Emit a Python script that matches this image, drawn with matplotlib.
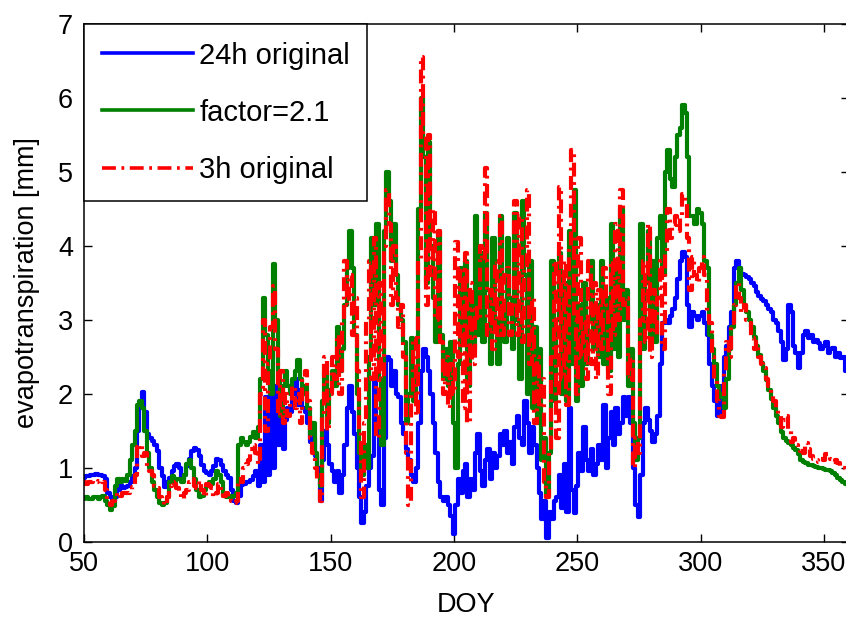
import numpy as np
import matplotlib
matplotlib.use("Agg")
import matplotlib.pyplot as plt

# ---------------- data (DOY 50 .. 360, daily) ----------------
doy_start = 50
doy_end = 360

et_24h_original = [
    0.86, 0.88, 0.88, 0.90, 0.90, 0.91, 0.90, 0.90, 0.88, 0.84,
    0.65, 0.60, 0.55, 0.60, 0.70, 0.76, 0.72, 0.74, 0.75, 0.80,
    0.88, 1.00, 1.50, 1.85, 2.02, 1.75, 1.45, 1.40, 1.36, 1.30,
    1.22, 1.00, 0.88, 0.74, 0.80, 0.86, 0.96, 1.02, 1.05, 1.00,
    0.84, 0.90, 1.02, 1.12, 1.22, 1.26, 1.24, 1.15, 1.04, 0.95,
    0.92, 0.90, 0.95, 1.02, 1.12, 1.10, 1.04, 0.95, 0.90, 0.86,
    0.70, 0.55, 0.52, 0.62, 0.76, 0.78, 0.80, 0.80, 0.83, 0.88,
    0.95, 0.75, 1.30, 0.80, 1.95, 0.90, 2.15, 1.00, 2.10, 1.30,
    1.90, 1.25, 1.65, 1.80, 1.75, 2.00, 2.20, 1.85, 2.05, 1.80,
    1.75, 1.60, 1.35, 1.40, 1.15, 1.00, 0.55, 1.10, 1.50, 1.30,
    1.05, 0.95, 0.80, 0.95, 0.65, 0.90, 1.30, 1.80, 2.10, 1.75,
    1.45, 1.00, 0.60, 0.25, 0.40, 0.75, 1.00, 1.15, 2.25, 1.60,
    0.70, 0.50, 1.40, 2.50, 2.45, 2.10, 2.30, 2.00, 1.95, 1.60,
    1.45, 1.25, 1.10, 0.90, 0.80, 1.00, 1.60, 2.30, 2.60, 2.50,
    2.30, 2.00, 1.60, 1.20, 0.80, 0.60, 0.55, 0.60, 0.50, 0.35,
    0.10, 0.50, 0.85, 0.65, 0.95, 1.05, 0.60, 0.85, 0.70, 1.20,
    1.45, 0.95, 0.75, 1.10, 1.25, 0.85, 1.20, 1.00, 1.15, 1.45,
    1.30, 1.50, 1.20, 1.35, 1.05, 1.55, 1.70, 1.40, 1.30, 1.90,
    1.60, 1.20, 1.55, 1.30, 1.00, 0.65, 0.30, 0.55, 0.05, 0.40,
    0.30, 0.55, 0.60, 0.90, 0.45, 1.05, 0.40, 1.80, 0.70, 0.38,
    0.75, 1.20, 0.95, 1.55, 1.10, 0.95, 1.25, 0.90, 1.05, 1.30,
    1.10, 1.85, 1.00, 1.40, 1.75, 1.30, 1.80, 1.45, 1.60, 1.95,
    1.70, 1.95, 1.60, 1.00, 0.50, 0.33, 0.90, 1.60, 1.80, 1.65,
    1.50, 1.35, 1.45, 1.70, 2.40, 2.95, 3.00, 2.95, 3.05, 3.15,
    3.30, 3.55, 3.80, 3.92, 3.85, 3.20, 2.90, 3.10, 3.05, 3.00,
    3.05, 3.10, 2.95, 2.80, 2.40, 2.10, 1.90, 1.70, 1.75, 2.10,
    2.50, 2.65, 2.90, 3.10, 3.70, 3.80, 3.70, 3.62, 3.60, 3.58,
    3.55, 3.50, 3.45, 3.38, 3.32, 3.28, 3.25, 3.20, 3.15, 3.10,
    3.00, 2.95, 2.85, 2.70, 2.45, 2.60, 3.20, 3.10, 2.65, 2.55,
    2.35, 2.55, 2.80, 2.85, 2.75, 2.80, 2.70, 2.72, 2.68, 2.60,
    2.65, 2.70, 2.55, 2.60, 2.62, 2.50, 2.55, 2.48, 2.50, 2.30,
    2.55,
]

et_factor_2_1 = [
    0.58, 0.60, 0.58, 0.58, 0.60, 0.60, 0.58, 0.60, 0.62, 0.55,
    0.50, 0.42, 0.48, 0.75, 0.85, 0.80, 0.85, 0.82, 0.90, 1.10,
    1.30, 1.50, 1.85, 1.90, 1.80, 1.50, 1.20, 1.00, 0.80, 0.70,
    0.60, 0.52, 0.50, 0.52, 0.60, 0.80, 0.88, 0.80, 0.85, 0.85,
    0.80, 0.90, 1.05, 1.10, 1.00, 0.85, 0.70, 0.60, 0.62, 0.70,
    0.75, 0.80, 0.78, 0.85, 0.95, 0.90, 0.80, 0.62, 0.60, 0.62,
    0.60, 0.62, 0.66, 1.30, 1.40, 1.35, 1.30, 1.35, 1.42, 1.48,
    1.40, 1.55, 2.20, 3.30, 2.80, 2.30, 2.00, 3.75, 3.00, 2.30,
    1.70, 2.10, 2.30, 2.10, 2.00, 2.20, 2.30, 2.45, 2.20, 2.00,
    2.10, 1.80, 1.45, 1.60, 1.20, 0.90, 0.75, 1.90, 2.30, 1.60,
    2.05, 2.30, 2.10, 2.90, 2.30, 2.60, 3.20, 3.70, 4.20, 3.70,
    2.80, 2.00, 1.20, 0.90, 1.30, 1.00, 2.50, 4.10, 3.20, 4.30,
    2.20, 1.30, 4.20, 5.00, 4.60, 3.80, 4.30, 3.60, 3.20, 3.00,
    2.70, 1.60, 2.00, 2.75, 1.90, 2.30, 4.50, 6.00, 5.20, 3.50,
    5.40, 4.00, 3.30, 2.70, 4.20, 2.80, 2.20, 2.60, 2.10, 2.70,
    1.60, 1.00, 2.40, 3.70, 2.70, 3.80, 2.10, 3.30, 2.60, 4.40,
    2.80, 3.90, 2.70, 4.45, 3.40, 2.40, 4.10, 3.00, 2.40, 4.40,
    3.20, 2.70, 4.10, 3.30, 2.60, 4.45, 3.00, 2.20, 4.60, 3.60,
    2.00, 3.80, 1.80, 2.90, 1.60, 2.60, 1.10, 1.40, 0.60, 1.20,
    3.80, 1.90, 3.00, 3.90, 2.00, 3.50, 1.90, 4.20, 2.40, 4.75,
    1.90, 3.20, 2.10, 3.50, 2.40, 3.00, 3.80, 2.60, 3.20, 2.50,
    3.80, 2.40, 3.30, 2.30, 4.30, 2.60, 3.70, 2.50, 4.50, 3.00,
    3.40, 2.10, 2.60, 1.60, 1.10, 1.40, 4.30, 2.60, 3.50, 4.20,
    2.80, 3.80, 2.70, 4.10, 4.40, 3.60, 5.00, 5.30, 4.90, 4.80,
    5.20, 5.50, 5.60, 5.90, 5.80, 5.20, 4.40, 4.40, 4.30, 4.50,
    4.45, 4.30, 3.80, 3.70, 2.80, 2.60, 2.40, 2.10, 1.95, 2.00,
    1.80, 2.20, 2.60, 2.90, 3.20, 3.50, 3.70, 3.40, 3.20, 3.10,
    3.00, 2.90, 2.77, 2.65, 2.52, 2.41, 2.30, 2.18, 2.05, 1.93,
    1.80, 1.70, 1.60, 1.48, 1.40, 1.36, 1.33, 1.30, 1.27, 1.24,
    1.18, 1.10, 1.08, 1.06, 1.04, 1.03, 1.02, 1.01, 1.00, 0.99,
    0.98, 0.97, 0.97, 0.95, 0.92, 0.90, 0.86, 0.83, 0.80, 0.78,
    0.76,
]

et_3h_original = [
    0.80, 0.78, 0.80, 0.80, 0.82, 0.80, 0.82, 0.83, 0.80, 0.70,
    0.55, 0.50, 0.55, 0.62, 0.65, 0.62, 0.65, 0.66, 0.65, 0.70,
    0.74, 0.90, 1.28, 1.30, 1.15, 1.20, 1.00, 0.95, 0.90, 0.75,
    0.72, 0.60, 0.55, 0.50, 0.60, 0.75, 0.80, 0.78, 0.72, 0.65,
    0.58, 0.65, 0.70, 0.80, 0.85, 0.75, 0.72, 0.82, 0.70, 0.60,
    0.78, 0.75, 0.72, 0.60, 0.65, 0.78, 0.70, 0.62, 0.66, 0.60,
    0.55, 0.52, 0.55, 0.85, 0.80, 1.00, 1.05, 1.10, 1.25, 1.30,
    1.20, 1.05, 2.00, 3.00, 1.50, 2.40, 2.90, 3.45, 2.60, 1.70,
    2.30, 1.60, 2.00, 1.70, 1.90, 2.10, 1.80, 2.00, 1.60, 2.20,
    2.30, 1.90, 1.40, 1.20, 1.00, 0.80, 0.55, 1.70, 2.50, 1.50,
    2.00, 2.50, 2.20, 2.80, 2.00, 3.00, 3.80, 3.20, 3.60, 2.80,
    3.30, 2.30, 1.50, 0.60, 1.60, 3.00, 3.80, 2.20, 4.10, 1.40,
    3.50, 2.20, 4.00, 4.75, 4.30, 3.20, 4.00, 3.30, 2.90, 3.20,
    2.50, 1.20, 0.50, 2.00, 2.75, 1.70, 3.80, 6.55, 5.50, 3.20,
    5.50, 3.60, 4.50, 3.00, 4.20, 2.70, 2.00, 2.50, 1.80, 2.40,
    2.00, 4.05, 2.50, 3.70, 1.80, 3.90, 1.60, 3.50, 2.40, 3.20,
    3.00, 4.00, 3.80, 5.05, 2.80, 3.40, 2.60, 3.80, 2.80, 4.40,
    2.80, 3.60, 3.70, 2.80, 3.20, 4.60, 2.80, 4.40, 2.70, 3.70,
    4.75, 2.40, 3.30, 1.60, 2.50, 1.80, 2.20, 0.80, 0.60, 1.20,
    2.50, 3.80, 1.40, 4.80, 2.20, 3.80, 1.85, 4.00, 5.30, 3.00,
    2.00, 4.10, 2.50, 3.00, 2.20, 3.80, 2.40, 3.50, 2.20, 3.40,
    2.60, 3.70, 3.20, 2.00, 3.80, 2.80, 4.30, 3.00, 4.75, 3.20,
    3.30, 2.20, 2.50, 1.00, 1.40, 1.20, 3.00, 3.80, 2.70, 4.30,
    2.50, 3.40, 2.80, 3.30, 3.80, 2.60, 3.90, 4.50, 4.10, 4.30,
    4.40, 4.20, 4.40, 4.70, 4.60, 4.10, 3.40, 3.85, 3.60, 3.50,
    3.70, 3.85, 3.60, 3.10, 2.95, 2.50, 2.20, 1.90, 1.70, 1.68,
    2.30, 2.70, 2.50, 2.95, 3.20, 3.50, 3.30, 3.10, 3.20, 3.00,
    2.95, 2.75, 2.60, 2.70, 2.50, 2.40, 2.35, 2.20, 2.10, 2.00,
    1.90, 1.78, 1.70, 1.55, 1.65, 1.70, 1.50, 1.35, 1.40, 1.30,
    1.28, 1.22, 1.20, 1.33, 1.25, 1.15, 1.12, 1.10, 1.08, 1.12,
    1.10, 1.19, 1.18, 1.12, 1.08, 1.10, 1.06, 1.02, 1.00, 0.98,
    0.97,
]

series_labels = ["24h original", "factor=2.1", "3h original"]
x_ticks = [50, 100, 150, 200, 250, 300, 350]
y_ticks = [0, 1, 2, 3, 4, 5, 6, 7]

doy = np.arange(doy_start, doy_end + 1)

# ---------------- figure ----------------
plt.rcParams["font.family"] = ["Liberation Sans", "DejaVu Sans"]
plt.rcParams["lines.scale_dashes"] = False

W, H = 846, 617
fig = plt.figure(figsize=(W / 100, H / 100), dpi=100)
left_px, right_px, top_px, bottom_px = 84, 848.5, 24, 541.5
ax = fig.add_axes([left_px / W, (H - bottom_px) / H,
                   (right_px - left_px) / W, (bottom_px - top_px) / H])

lw = 3.0
ax.plot(doy, et_24h_original, color=(0, 0, 1), lw=lw,
        drawstyle="steps-mid", label=series_labels[0])
ax.plot(doy, et_factor_2_1, color=(0, 0.5, 0), lw=lw,
        drawstyle="steps-mid", label=series_labels[1])
ax.plot(doy, et_3h_original, color=(1, 0, 0), lw=lw,
        drawstyle="steps-mid", linestyle=(0, (10, 4, 2, 4)),
        label=series_labels[2])

ax.set_xlim(doy_start, doy_end)
ax.set_ylim(0, 7)
ax.set_xticks(x_ticks)
ax.set_yticks(y_ticks)
ax.tick_params(direction="in", top=True, right=True, length=5.5,
               width=1.0, labelsize=19.5, colors="black")
ax.tick_params(axis="x", pad=7)
ax.tick_params(axis="y", pad=8)
for sp in ax.spines.values():
    sp.set_linewidth(1.1)
    sp.set_color("black")

ax.set_xlabel("DOY", fontsize=19.5)
ax.set_ylabel("evapotranspiration [mm]", fontsize=19.5)
ax.xaxis.set_label_coords(0.5, -0.098)
ax.yaxis.set_label_coords(-0.058, 0.5)

leg = ax.legend(loc="upper left", bbox_to_anchor=(0, 1), borderaxespad=0,
                fontsize=21, fancybox=False, framealpha=1, edgecolor="black",
                handlelength=3.15, handletextpad=0.2, labelspacing=1.0,
                borderpad=0.6)
leg.get_frame().set_linewidth(1.1)
for h in leg.get_lines():
    h.set_linewidth(2.6)

fig.savefig("out.png", dpi=100)
